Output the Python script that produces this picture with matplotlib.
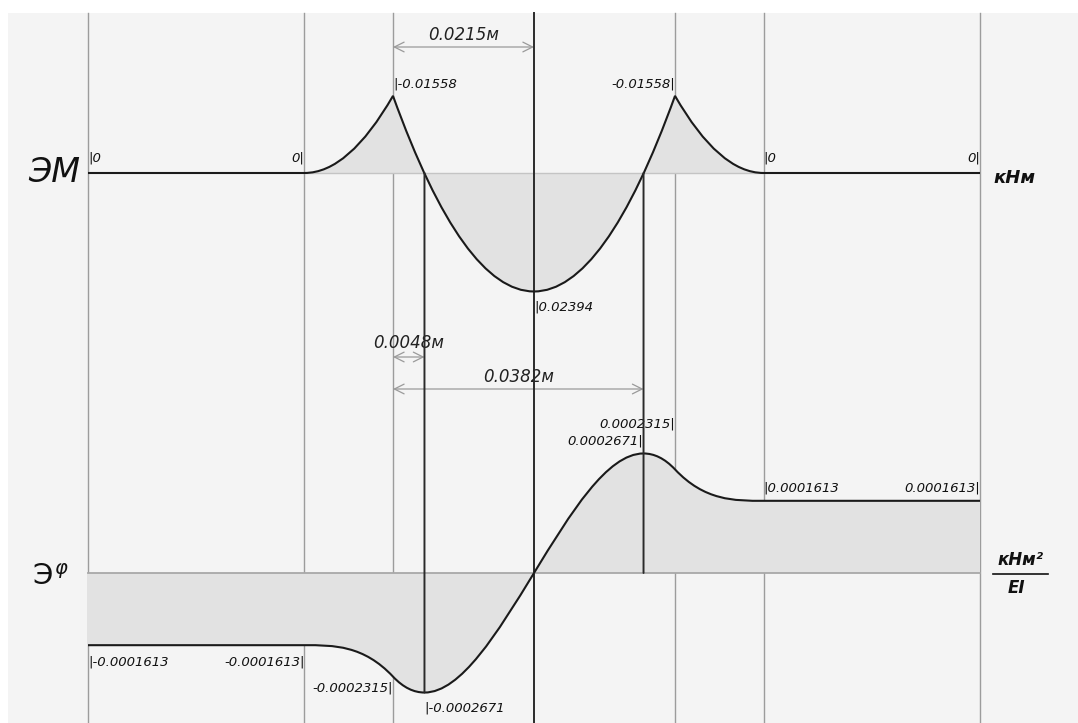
import matplotlib
matplotlib.use("Agg")
import matplotlib.pyplot as plt
from matplotlib.path import Path
from matplotlib.patches import PathPatch, Rectangle, ConnectionPatch
from matplotlib.lines import Line2D
from matplotlib.transforms import blended_transform_factory

plt.rcParams['font.family'] = ['DejaVu Sans']

# ---------------- data ----------------
# section positions along the beam, m: a, b, c, d, e, f
section_x = [0.0, 0.033, 0.0465, 0.0895, 0.103, 0.136]
mid_x = 0.068                       # middle of the span
dim_c_mid = 0.0215                  # dimension c -> middle
dim_c_zero1 = 0.0048                # dimension c -> first zero of M
dim_c_zero2 = 0.0382                # dimension c -> second zero of M

# bending moment diagram (ЭМ), kНм
m_peak = -0.01558
m_mid = 0.02394
m_labels = ["0", "0", "-0.01558", "0.02394", "-0.01558", "0", "0"]
# which end of every segment is the parabola vertex
m_vertex = ["flat", "left", "right", "left", "right", "flat"]

# rotation diagram (Эφ), kНм²/EI
phi_vals = [-0.0001613, -0.0001613, -0.0002315, -0.0002671, 0.0,
            0.0002671, 0.0002315, 0.0001613, 0.0001613]
phi_labels = ["-0.0001613", "-0.0001613", "-0.0002315", "-0.0002671", "",
              "0.0002671", "0.0002315", "0.0001613", "0.0001613"]

# ---------------- layout ----------------
W, H = 1078, 723
fig = plt.figure(figsize=(W / 100, H / 100), dpi=100)
fig.patch.set_facecolor("white")
fig.add_artist(Rectangle((8 / W, 0), 1 - 8 / W, 1 - 13 / H, transform=fig.transFigure,
                         facecolor="#f4f4f4", edgecolor="none", zorder=-5))

a, b, c, d, e, f = section_x
z1 = c + dim_c_zero1
z2 = c + dim_c_zero2

x0_px, x1_px = 88, 980
sx = (x1_px - x0_px) / (f - a)
xlim = (a - x0_px / sx, a + (W - x0_px) / sx)

ax_m = fig.add_axes([0, 0, 1, 1])
ax_p = fig.add_axes([0, 0, 1, 1])
for ax in (ax_m, ax_p):
    ax.set_xlim(*xlim)
    ax.axis("off")
    ax.patch.set_visible(False)

base_m, sm = 173, 4950.0      # M: baseline px, px per unit (positive down)
ax_m.set_ylim((H - base_m) / sm, -base_m / sm)
base_p, sp = 573, 447500.0    # phi: baseline px, px per unit (positive up)
ax_p.set_ylim(-(H - base_p) / sp, base_p / sp)

def fy(px):
    return 1 - px / H

bl = blended_transform_factory(ax_m.transData, fig.transFigure)

# vertical grid lines
top_frac = 1 - 13 / H
for xs in section_x:
    ax_m.axvline(xs, ymin=0, ymax=top_frac, color="#9c9c9c", lw=1.0, zorder=1)
ax_m.axvline(mid_x, ymin=0, ymax=top_frac, color="#2a2a2a", lw=1.4, zorder=4)

# ---------------- ЭМ diagram ----------------
m_x = [a, b, c, mid_x, d, e, f]
m_v = [0, 0, m_peak, m_mid, m_peak, 0, 0]

def m_path(i0, i1, closed=False):
    verts = [(m_x[i0], m_v[i0])]
    codes = [Path.MOVETO]
    for i in range(i0, i1):
        xm = (m_x[i] + m_x[i + 1]) / 2
        vy = m_v[i] if m_vertex[i] == "left" else m_v[i + 1]
        if m_vertex[i] == "flat":
            verts.append((m_x[i + 1], m_v[i + 1])); codes.append(Path.LINETO)
        else:
            verts += [(xm, vy), (m_x[i + 1], m_v[i + 1])]
            codes += [Path.CURVE3, Path.CURVE3]
    if closed:
        verts.append(verts[0]); codes.append(Path.CLOSEPOLY)
    return Path(verts, codes)

ax_m.plot([b, e], [0, 0], color="#c4c4c4", lw=1.0, zorder=2)
ax_m.add_patch(PathPatch(m_path(1, 5, closed=True), facecolor="#e2e2e2",
                         edgecolor="none", zorder=1.5))
ax_m.add_patch(PathPatch(m_path(0, 6), facecolor="none", edgecolor="#1a1a1a",
                         lw=1.5, zorder=5))

lab_kw = dict(fontsize=9.5, style="italic", color="#111111", va="center",
              textcoords="offset pixels")
m_off = [15, 15, 12, -15, 12, 15, 15]
for i, (xv, yv, t) in enumerate(zip(m_x, m_v, m_labels)):
    left = i in (0, 2, 3, 5)
    txt = "|" + t if left else t + "|"
    ax_m.annotate(txt, xy=(xv, yv), xytext=(0, m_off[i]),
                  ha="left" if left else "right", **lab_kw)

ax_m.annotate("ЭМ", xy=(a, 0), xytext=(-8, 0), textcoords="offset pixels",
              ha="right", va="center", fontsize=24, style="italic", color="#111111")
ax_m.annotate("кНм", xy=(f, 0), xytext=(13, -5), textcoords="offset pixels",
              ha="left", va="center", fontsize=13, style="italic",
              fontweight="bold", color="#111111")

# ---------------- Эφ diagram ----------------
p_x = [a, b, c, z1, mid_x, z2, d, e, f]
p_slope = [0, 0, m_peak, 0, m_mid, 0, m_peak, 0, 0]   # dφ/dx = M

verts = [(p_x[0], phi_vals[0])]
codes = [Path.MOVETO]
for i in range(len(p_x) - 1):
    h = p_x[i + 1] - p_x[i]
    verts += [(p_x[i] + h / 3, phi_vals[i] + p_slope[i] * h / 3),
              (p_x[i + 1] - h / 3, phi_vals[i + 1] - p_slope[i + 1] * h / 3),
              (p_x[i + 1], phi_vals[i + 1])]
    codes += [Path.CURVE4] * 3
phi_path = Path(verts, codes)
fill_path = Path([(a, 0)] + verts + [(f, 0), (a, 0)],
                 [Path.MOVETO, Path.LINETO] + codes[1:] + [Path.LINETO, Path.CLOSEPOLY])

ax_p.add_patch(PathPatch(fill_path, facecolor="#e2e2e2", edgecolor="none", zorder=1.5))
ax_p.plot([a, f], [0, 0], color="#a8a8a8", lw=1.3, zorder=2)
ax_p.add_patch(PathPatch(phi_path, facecolor="none", edgecolor="#1a1a1a",
                         lw=1.5, zorder=5))

p_off = [-17, -17, -11, -15, 0, 12, 45, 13, 13]
p_left = [True, False, False, True, False, False, False, True, False]
for i, (xv, yv, t) in enumerate(zip(p_x, phi_vals, phi_labels)):
    if not t:
        continue
    txt = "|" + t if p_left[i] else t + "|"
    ax_p.annotate(txt, xy=(xv, yv), xytext=(0, p_off[i]),
                  ha="left" if p_left[i] else "right", **lab_kw)

ax_p.annotate("Э", xy=(a, 0), xytext=(-35, -3), textcoords="offset pixels",
              ha="right", va="center", fontsize=21, color="#111111")
ax_p.annotate("φ", xy=(a, 0), xytext=(-34, 5), textcoords="offset pixels",
              ha="left", va="center", fontsize=14, style="italic", color="#111111")

# unit fraction
ax_p.annotate("кНм²", xy=(f, 0), xytext=(40, 13), textcoords="offset pixels",
              ha="center", va="center", fontsize=12, style="italic",
              fontweight="bold", color="#111111")
ax_p.annotate("EI", xy=(f, 0), xytext=(36, -15), textcoords="offset pixels",
              ha="center", va="center", fontsize=12, style="italic",
              fontweight="bold", color="#111111")
fig.add_artist(Line2D([993 / W, 1048 / W], [fy(574), fy(574)],
                      transform=fig.transFigure, color="#111111", lw=1.2))

# connecting dark lines through both diagrams
for xz, yb in ((z1, phi_vals[3]), (z2, 0.0)):
    fig.add_artist(ConnectionPatch(xyA=(xz, 0), coordsA=ax_m.transData,
                                   xyB=(xz, yb), coordsB=ax_p.transData,
                                   color="#2a2a2a", lw=1.4, zorder=4))

# dimension lines
dims = [(c, mid_x, 47, f"{dim_c_mid}м", 35),
        (c, z1, 357, f"{dim_c_zero1}м", 343),
        (c, z2, 389, f"{dim_c_zero2}м", 377)]
for x_from, x_to, ypx, txt, ytxt in dims:
    ax_m.annotate("", xy=(x_from, fy(ypx)), xycoords=bl, xytext=(x_to, fy(ypx)),
                  textcoords=bl,
                  arrowprops=dict(arrowstyle="<->,head_length=0.5,head_width=0.25",
                                  color="#9a9a9a", lw=0.9, shrinkA=0, shrinkB=0,
                                  mutation_scale=14))
xt = [(c + mid_x) / 2, c + dim_c_zero1 / 2 - 0.0, (c + z2) / 2]
for (x_from, x_to, ypx, txt, ytxt), xc in zip(dims, xt):
    ax_m.text(xc, fy(ytxt), txt, transform=bl, ha="center", va="center",
              fontsize=12, style="italic", color="#222222")

fig.savefig("out.png", dpi=100)
